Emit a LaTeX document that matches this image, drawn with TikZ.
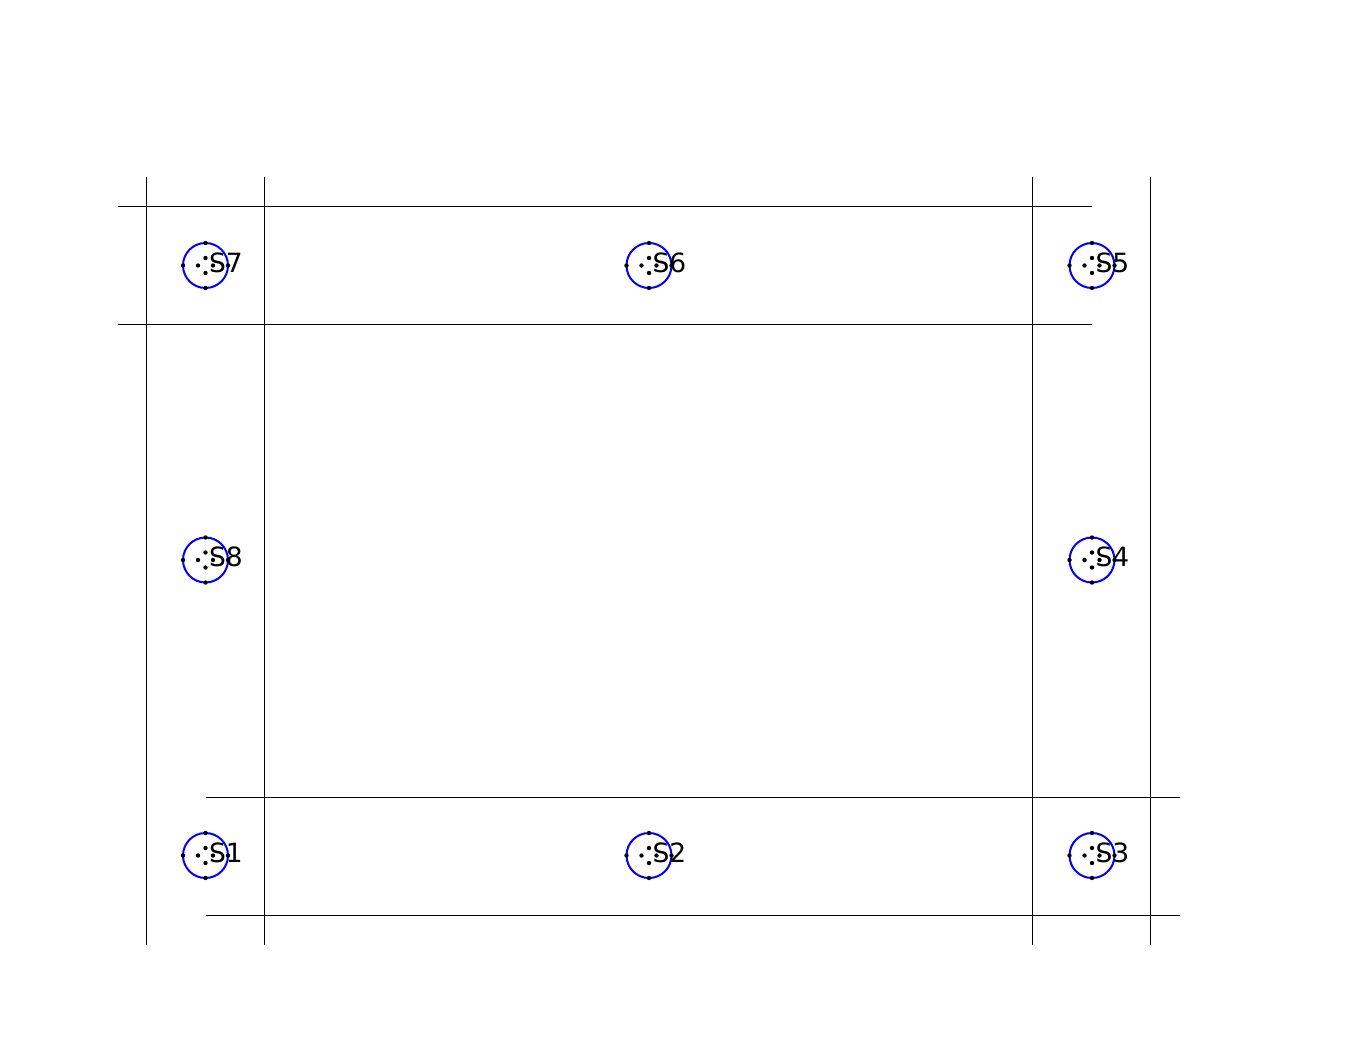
\documentclass[tikz,border=0pt]{standalone}
\usepackage{fontspec}
\setmainfont{DejaVu Sans}
\tikzset{
  wire/.style={draw=black,line width=0.6pt},
  ring/.style={draw=blue,line width=2pt},
  pin/.style={fill=black,draw=none},
  sensorlabel/.style={anchor=base west,inner sep=0pt,font=\fontsize{26.5}{30}\selectfont,text=black}
}
\begin{document}
\begin{tikzpicture}[x=1pt,y=-1pt]
\useasboundingbox (0,0) rectangle (1358,1063);
\foreach \n/\x in {a/146.6,b/264.6,c/1032.6,d/1150.6}{
  \coordinate (v\n top) at (\x,177);
  \coordinate (v\n bot) at (\x,945);
  \draw[wire] (v\n top) -- (v\n bot);
}
\foreach \n/\y in {a/206,b/324}{
  \coordinate (h\n l) at (117.5,\y);
  \coordinate (h\n r) at (1091.5,\y);
  \draw[wire] (h\n l) -- (h\n r);
}
\foreach \n/\y in {c/797,d/915}{
  \coordinate (h\n l) at (206,\y);
  \coordinate (h\n r) at (1180,\y);
  \draw[wire] (h\n l) -- (h\n r);
}
\foreach \t/\x/\y in {S1/205.5/855.5,S2/649/855.5,S3/1092/855.5,S4/1092/560,S5/1092/265.5,S6/649/265.5,S7/205.5/265.5,S8/205.5/560}{
  \begin{scope}[shift={(\x,\y)}]
    \draw[ring] (0,0) circle[radius=22.5];
    \foreach \a in {0,90,180,270}{
      \fill[pin] (\a:22.5) circle[radius=2.2];
      \fill[pin] (\a:7.5) circle[radius=2.2];
    }
    \node[sensorlabel] (\t) at (3.3,6.6) {\t};
  \end{scope}
}
\end{tikzpicture}
\end{document}
